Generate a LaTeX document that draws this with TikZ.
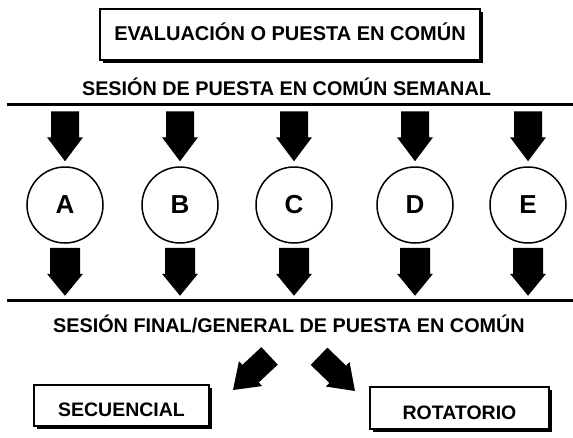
\documentclass[tikz,border=0pt]{standalone}
\usepackage{fontspec}
\setmainfont{Liberation Sans}
\usetikzlibrary{shadows,calc}
\newcommand\blockarr[6]{% tip, angle, length, headlen, shaft half, head half
  \fill[black,shift={#1},rotate=#2] (0,0) -- (-#4,#6) -- (-#4,#5) -- (-#3,#5) -- (-#3,-#5) -- (-#4,-#5) -- (-#4,-#6) -- cycle;}
\begin{document}
\begin{tikzpicture}[x=1pt,y=-1pt,
  box/.style={draw,line width=1.6pt,fill=white,inner sep=0pt,font=\bfseries\fontsize{19.5}{22}\selectfont,
    drop shadow={shadow xshift=3pt,shadow yshift=-3pt,fill=black,opacity=1}},
  circ/.style={draw,circle,line width=1.5pt,minimum size=76pt,inner sep=0pt,font=\bfseries\fontsize{26}{28}\selectfont},
  lbl/.style={font=\bfseries\fontsize{19.8}{22}\selectfont,inner sep=0pt},
  rule/.style={line width=3pt}]
\useasboundingbox (0,0) rectangle (573,437);
\node[box,minimum width=380pt,minimum height=51pt,font=\bfseries\fontsize{20}{22}\selectfont] (title) at (290,34.5) {\raisebox{2.5pt}[\height][\depth]{EVALUACIÓN O PUESTA EN COMÚN}};
\node[lbl] (sem) at (286.5,86.7) {SESIÓN DE PUESTA EN COMÚN SEMANAL};
\coordinate (tl) at (7,104); \coordinate (tr) at (573,104);
\draw[rule] (tl) -- (tr);
\coordinate (bl) at (7,300); \coordinate (br) at (573,300);
\draw[rule] (bl) -- (br);
\foreach \n/\x in {A/65,B/180,C/294,D/415,E/528}{
  \node[circ] (\n) at (\x,205) {\n};
  \blockarr{($(\n.north)+(0,-5)$)}{-90}{50}{24}{14}{18}
  \blockarr{($(\n.south)+(0,52)$)}{-90}{48}{22}{15}{18}
}
\node[lbl] (fin) at (289,323.7) {SESIÓN FINAL/GENERAL DE PUESTA EN COMÚN};
\node[box,minimum width=175pt,minimum height=41pt] (sec) at (121.5,405.5) {\raisebox{-4.5pt}[\height][\depth]{SECUENCIAL}};
\node[box,minimum width=179pt,minimum height=42pt] (rot) at (459.5,408) {\raisebox{-4.5pt}[\height][\depth]{ROTATORIO}};
\coordinate (lt) at (233,390);
\coordinate (rt) at (355,391);
\blockarr{(lt)}{-137}{50}{24}{12}{17}
\blockarr{(rt)}{-44}{50}{24}{12}{17}
\end{tikzpicture}
\end{document}
